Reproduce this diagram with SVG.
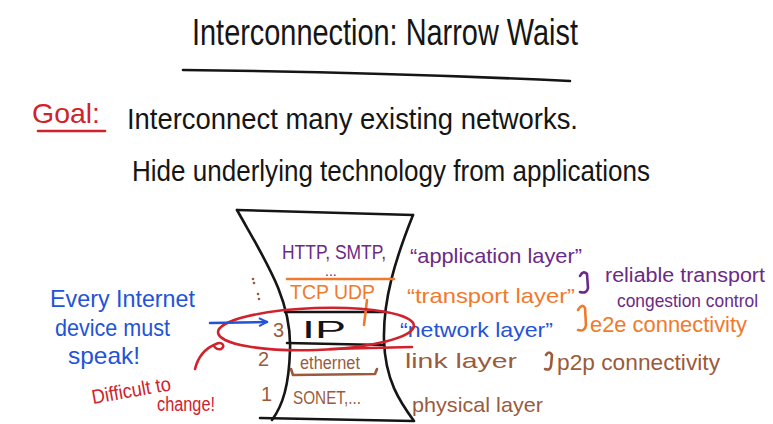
<svg xmlns="http://www.w3.org/2000/svg" width="773" height="424" viewBox="0 0 773 424">
<style>
text{font-family:"Liberation Sans","DejaVu Sans",sans-serif;}
.k{fill:#151515}.r{fill:#d0222c}.p{fill:#6b2a86}.o{fill:#f07a2c}.b{fill:#2353d6}.n{fill:#9b5b3b}
.ln{fill:none;stroke-width:2.6;stroke-linecap:round;stroke-linejoin:round}
.sk{stroke:#151515}.sr{stroke:#d0222c}.sp{stroke:#6b2a86}.so{stroke:#f07a2c}.sb{stroke:#2353d6}.sn{stroke:#9b5b3b}
</style>
<defs>
<marker id="ah" viewBox="0 0 10 10" refX="9" refY="5" markerWidth="10" markerHeight="10" markerUnits="userSpaceOnUse" orient="auto">
<path d="M1,1 L9,5 L1,9" fill="none" stroke="#2353d6" stroke-width="2"/>
</marker>
</defs>
<rect width="773" height="424" fill="#ffffff"/>
<g id="title">
<text x="192" y="45" font-size="37" class="k" textLength="386" lengthAdjust="spacingAndGlyphs">Interconnection: Narrow Waist</text>
<path class="ln sk" d="M183,70 Q380,72 570,81"/>
</g>
<g id="goal">
<text x="32" y="123" font-size="28" class="r" textLength="68" lengthAdjust="spacingAndGlyphs">Goal:</text>
<path class="ln sr" d="M38,131 L105,131"/>
<text x="127" y="129" font-size="29" class="k" textLength="451" lengthAdjust="spacingAndGlyphs">Interconnect many existing networks.</text>
<text x="132" y="181" font-size="29" class="k" textLength="518" lengthAdjust="spacingAndGlyphs">Hide underlying technology from applications</text>
</g>
<g id="hourglass">
<path class="ln sk" d="M237,210 L413,215"/>
<path class="ln sk" d="M237,210 C265,260 292,300 290,350 C289,385 283,405 272,420"/>
<path class="ln sk" d="M413,215 C395,260 383,300 384,340 C385,380 400,402 414,421"/>
<path class="ln sk" d="M260,418 L413,421"/>
<path class="ln so" d="M287,279 L394,279"/>
<path class="ln sk" d="M285,312 L385,312"/>
<path class="ln sk" d="M287,343 L383,345"/>
<path class="ln sn" d="M291,369 L293,375 L375,374 L377,369"/>
<path class="ln so" d="M367,300 L364,325" stroke-width="2"/>
<g fill="#9b5b3b"><circle cx="253" cy="279" r="1.3"/><circle cx="254" cy="283" r="1.3"/><circle cx="258" cy="294" r="1.3"/><circle cx="259" cy="299" r="1.3"/></g>
</g>
<g id="layer-app">
<text x="282" y="259" font-size="20" class="p" textLength="104" lengthAdjust="spacingAndGlyphs">HTTP, SMTP,</text>
<text x="325" y="276" font-size="14" class="p">...</text>
<text x="410" y="263" font-size="21" class="p" textLength="172" lengthAdjust="spacingAndGlyphs">“application layer”</text>
</g>
<g id="layer-transport">
<text x="290" y="299" font-size="20" class="o" textLength="85" lengthAdjust="spacingAndGlyphs">TCP UDP</text>
<text x="407" y="303" font-size="21" class="o" textLength="168" lengthAdjust="spacingAndGlyphs">“transport layer”</text>
</g>
<g id="layer-network">
<text x="273" y="337" font-size="20" class="n">3</text>
<text x="302" y="338" font-size="24" class="k" textLength="44" lengthAdjust="spacingAndGlyphs">IP</text>
<text x="400" y="337" font-size="21" class="b" textLength="153" lengthAdjust="spacingAndGlyphs">“network layer”</text>
</g>
<g id="layer-link">
<text x="258" y="366" font-size="20" class="n">2</text>
<text x="300" y="369" font-size="18" class="n" textLength="60" lengthAdjust="spacingAndGlyphs">ethernet</text>
<text x="405" y="368" font-size="21" class="n" textLength="112" lengthAdjust="spacingAndGlyphs">link layer</text>
</g>
<g id="layer-physical">
<text x="261" y="401" font-size="20" class="n">1</text>
<text x="293" y="404" font-size="18" class="n" textLength="68" lengthAdjust="spacingAndGlyphs">SONET,...</text>
<text x="412" y="412" font-size="21" class="n" textLength="131" lengthAdjust="spacingAndGlyphs">physical layer</text>
</g>
<g id="note-transport">
<text x="605" y="282" font-size="20" class="p" textLength="160" lengthAdjust="spacingAndGlyphs">reliable transport</text>
<text x="617" y="307" font-size="19" class="p" textLength="141" lengthAdjust="spacingAndGlyphs">congestion control</text>
</g>
<g id="note-network">
<text x="590" y="332" font-size="22" class="o" textLength="157" lengthAdjust="spacingAndGlyphs">e2e connectivity</text>
</g>
<g id="note-link">
<text x="557" y="370" font-size="22" class="n" textLength="163" lengthAdjust="spacingAndGlyphs">p2p connectivity</text>
</g>
<g id="note-every">
<text x="50" y="307" font-size="24" class="b" textLength="145" lengthAdjust="spacingAndGlyphs">Every Internet</text>
<text x="55" y="336" font-size="24" class="b" textLength="115" lengthAdjust="spacingAndGlyphs">device must</text>
<text x="68" y="364" font-size="24" class="b" textLength="72" lengthAdjust="spacingAndGlyphs">speak!</text>
</g>
<g id="note-difficult">
<text x="93" y="404" font-size="20" class="r" textLength="80" lengthAdjust="spacingAndGlyphs" transform="rotate(-10 93 404)">Difficult to</text>
<text x="157" y="411" font-size="20" class="r" textLength="58" lengthAdjust="spacingAndGlyphs">change!</text>
</g>
<g id="connectors">
<ellipse cx="316" cy="329" rx="98" ry="21" transform="rotate(-2 316 329)" class="ln sr"/>
<path class="ln sr" d="M330,349 L412,347"/>
<path class="ln sb" d="M210,323 L267,322" marker-end="url(#ah)"/>
<path class="ln sr" d="M195,369 C198,357 206,348 216,344 C222,341 226,346 221,349 C218,350 215,348 214,346"/>
<path class="ln sp" d="M580,276 Q583,270 587,274 L588,288 Q587,294 580,292"/>
<path class="ln so" d="M578,310 Q582,303 585,308 L586,325 Q585,332 578,330"/>
<path class="ln sn" d="M546,355 Q549,350 552,355 L551,366 Q550,371 545,369"/>
</g>
</svg>
